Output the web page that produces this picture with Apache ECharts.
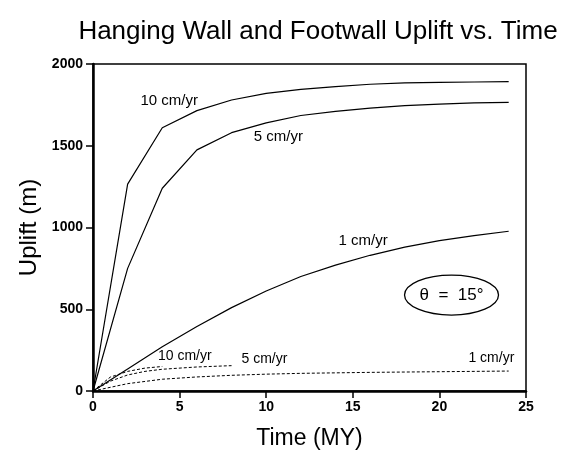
<!DOCTYPE html>
<html>
<head>
<meta charset="utf-8">
<script src="https://cdn.jsdelivr.net/npm/echarts@6/dist/echarts.min.js"></script>
<style>
  html, body { margin: 0; padding: 0; background: #fff; }
  #main { width: 564px; height: 455px; }
</style>
</head>
<body>
<div id="main"></div>
<script>
// hanging wall (solid) and footwall (dashed) uplift, [time MY, uplift m]
var hw10 = [[0,0],[2,1265],[4,1610],[6,1715],[8,1780],[10,1820],[12,1845],[14,1862],[16,1876],[18,1884],[20,1888],[22,1890],[24,1892]];
var hw5  = [[0,0],[2,750],[4,1240],[6,1475],[8,1580],[10,1640],[12,1685],[14,1710],[16,1730],[18,1745],[20,1755],[22,1762],[24,1765]];
var hw1  = [[0,0],[2,135],[4,270],[6,395],[8,510],[10,612],[12,700],[14,770],[16,830],[18,880],[20,920],[22,950],[24,977]];
var fw10 = [[0,0],[1,85],[2,120],[3,140],[4,150]];
var fw5  = [[0,0],[1,60],[2,98],[3,120],[4,133],[6,147],[8,155]];
var fw1  = [[0,0],[2,45],[4,72],[6,86],[8,96],[10,103],[12,108],[14,111],[16,114],[18,116],[20,118],[22,120],[24,122]];

var xTicks = [0, 5, 10, 15, 20, 25];
var yTicks = [0, 500, 1000, 1500, 2000];

// curve labels in data coords
var curveLabels = [
  { text: '10 cm/yr', at: [4.4, 1774] },
  { text: '5 cm/yr',  at: [10.7, 1553] },
  { text: '1 cm/yr',  at: [15.6, 917] },
  { text: '10 cm/yr', at: [5.3, 214] },
  { text: '5 cm/yr',  at: [9.9, 196] },
  { text: '1 cm/yr',  at: [23.0, 200] }
];
var thetaText = 'θ  =  15°';
var thetaAt = [20.7, 587];

var font = '"Liberation Sans", Arial, Helvetica, sans-serif';
var chart = echarts.init(document.getElementById('main'));

function solid(name, data) {
  return { name: name, type: 'line', data: data, symbol: 'none', smooth: false,
    lineStyle: { color: '#000', width: 1.2 } };
}
function dashed(name, data) {
  return { name: name, type: 'line', data: data, symbol: 'none', smooth: false,
    lineStyle: { color: '#000', width: 1, type: [3, 2] } };
}

chart.setOption({
  animation: false,
  title: {
    text: 'Hanging Wall and Footwall Uplift vs. Time',
    left: 313, top: 14, textAlign: 'center',
    textStyle: { fontFamily: font, fontSize: 26, fontWeight: 'normal', color: '#000' }
  },
  grid: {
    left: 93, right: 38, top: 64, bottom: 64,
    show: true, borderColor: '#000', borderWidth: 1.5, backgroundColor: 'transparent'
  },
  xAxis: {
    type: 'value', min: 0, max: 25, interval: 5,
    name: 'Time (MY)', nameLocation: 'middle', nameGap: 36,
    nameTextStyle: { fontFamily: font, fontSize: 23, color: '#000' },
    axisLine: { show: true, lineStyle: { color: '#000', width: 2.5 } },
    axisTick: { show: true, inside: false, length: 7, lineStyle: { color: '#000', width: 1.5 } },
    axisLabel: { fontFamily: font, fontSize: 14, fontWeight: 'bold', color: '#000', margin: 9,
      formatter: function (v) { return xTicks.indexOf(v) >= 0 ? String(v) : ''; } },
    splitLine: { show: false }
  },
  yAxis: {
    type: 'value', min: 0, max: 2000, interval: 500,
    name: 'Uplift (m)', nameLocation: 'middle', nameGap: 52,
    nameTextStyle: { fontFamily: font, fontSize: 24, color: '#000' },
    axisLine: { show: true, lineStyle: { color: '#000', width: 2.5 } },
    axisTick: { show: true, inside: false, length: 7, lineStyle: { color: '#000', width: 1.5 } },
    axisLabel: { fontFamily: font, fontSize: 14, fontWeight: 'bold', color: '#000', margin: 10,
      formatter: function (v) { return yTicks.indexOf(v) >= 0 ? String(v) : ''; } },
    splitLine: { show: false }
  },
  series: [
    solid('HW 10 cm/yr', hw10),
    solid('HW 5 cm/yr', hw5),
    solid('HW 1 cm/yr', hw1),
    dashed('FW 10 cm/yr', fw10),
    dashed('FW 5 cm/yr', fw5),
    dashed('FW 1 cm/yr', fw1)
  ]
});

// annotations placed through the chart's own scales
var g = [];
curveLabels.forEach(function (l, i) {
  var p = chart.convertToPixel({ gridIndex: 0 }, l.at);
  g.push({ type: 'text', x: p[0], y: p[1],
    style: { text: l.text, fill: '#000', font: (i < 3 ? '15px ' : '14px ') + font,
      textAlign: 'center', textVerticalAlign: 'middle' } });
});
var c = chart.convertToPixel({ gridIndex: 0 }, thetaAt);
g.push({ type: 'ellipse', shape: { cx: c[0], cy: c[1], rx: 47, ry: 20 },
  style: { fill: 'none', stroke: '#000', lineWidth: 1.3 } });
g.push({ type: 'text', x: c[0], y: c[1],
  style: { text: thetaText, fill: '#000', font: '17px ' + font, textAlign: 'center', textVerticalAlign: 'middle' } });
chart.setOption({ graphic: g });
</script>
</body>
</html>
